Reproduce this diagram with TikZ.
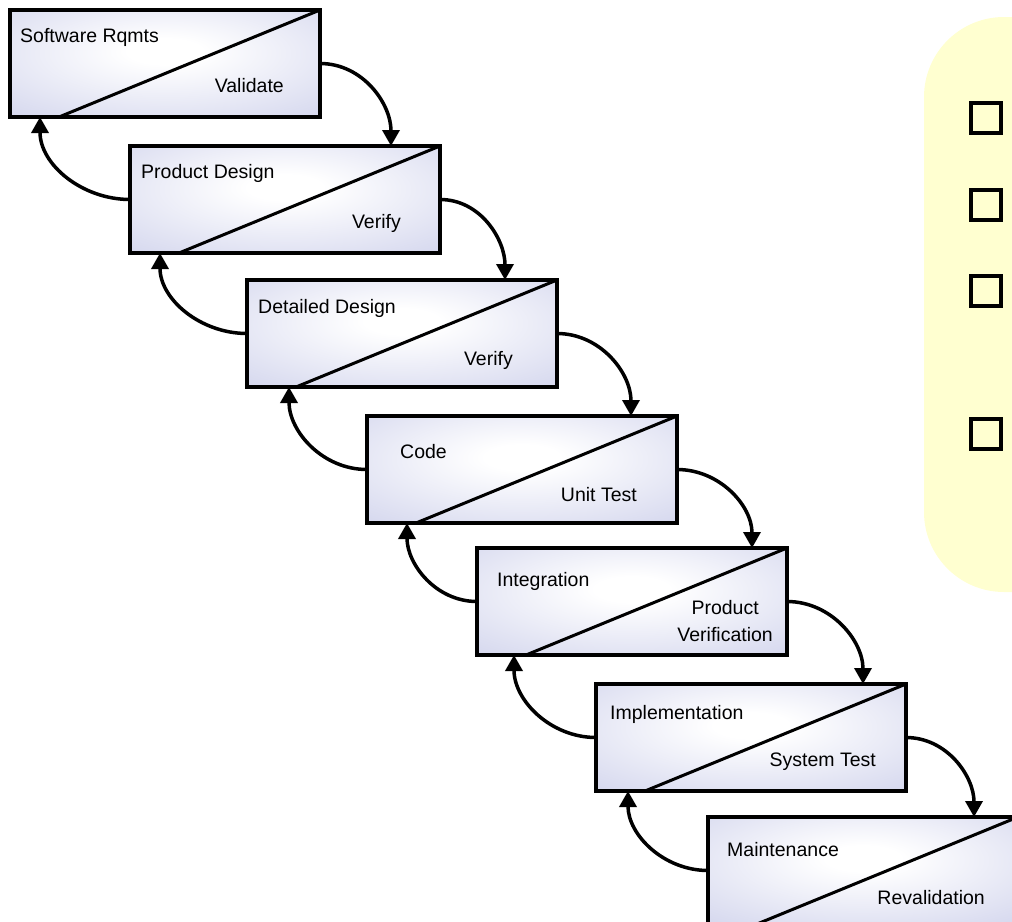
\documentclass[tikz,border=0pt]{standalone}
\usepackage{fontspec}
\setmainfont{Liberation Sans}
\usetikzlibrary{arrows.meta,positioning,calc}
\definecolor{wfblue}{RGB}{203,206,234}
\definecolor{wfyellow}{RGB}{255,255,208}
\pgfdeclareradialshading{glow}{\pgfpoint{0bp}{6bp}}{color(0bp)=(white); color(6bp)=(white); color(46bp)=(wfblue); color(100bp)=(wfblue)}
\tikzset{
  phase/.style={draw=black,line width=3.5pt,shade,shading=glow,
                minimum width=310pt,minimum height=107pt,inner sep=0pt,outer sep=0pt},
  toplab/.style={anchor=west,inner sep=0pt,font=\fontsize{19.5}{27}\selectfont},
  botlab/.style={anchor=east,inner sep=0pt,align=center,font=\fontsize{19.5}{27}\selectfont},
  fwd/.style={-{Triangle[length=16pt,width=17pt]},line width=3.5pt,black},
  chk/.style={draw=black,line width=3.8pt,minimum size=30pt,inner sep=0pt},
}

\begin{document}
\begin{tikzpicture}[x=1pt,y=1pt]
  \useasboundingbox (0,0) rectangle (1012,-921);
  \clip (0,0) rectangle (1012,-921);
  % note panel on the right
  \fill[wfyellow,rounded corners=80pt] (924,-17) rectangle (1100,-592);
  \foreach \y [count=\j] in {118,205,291,434}
    {\node[chk] (c\j) at (986,-\y) {};}
  % phases
  \foreach \x/\y/\ta/\dx/\dy/\tb/\dr/\by [count=\j] in
    {10/10/Software Rqmts/10/27/Validate/36/76,
     130/146/Product Design/11/27/Verify/39/77,
     247/280/Detailed Design/11/28/Verify/44/80,
     367/416/Code/33/36/Unit Test/40/79,
     477/548/Integration/20/33/{Product\\Verification}/14/73,
     596/684/Implementation/14/30/System Test/30/78,
     708/817/Maintenance/19/33/Revalidation/33/81}
    {\node[phase] (p\j) at (\x+155,-\y-53.5) {};
     \draw[line width=3pt] ([xshift=49pt]p\j.south west) -- (p\j.north east);
     \node[toplab] (t\j) at ([xshift=\dx pt,yshift=-\dy pt]p\j.north west) {\ta};
     \node[botlab] (b\j) at ([xshift=-\dr pt,yshift=-\by pt]p\j.north east) {\tb};}
  % forward and back arrows
  \foreach \i/\j/\f/\k in {1/2/49/30,2/3/52/30,3/4/46/42,4/5/35/40,5/6/43/37,6/7/44/32}
    {\draw[fwd] (p\i.east) to[out=0,in=90] ([xshift=-\f pt]p\j.north east);
     \draw[fwd] (p\j.west) to[out=180,in=-90] ([xshift=\k pt]p\i.south west);}
\end{tikzpicture}
\end{document}
